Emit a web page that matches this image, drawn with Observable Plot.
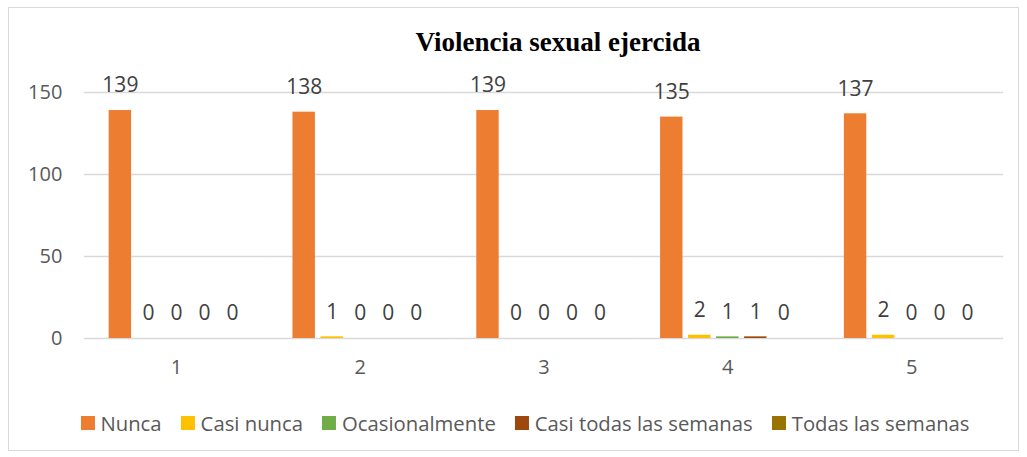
<!DOCTYPE html>
<html>
<head>
<meta charset="utf-8">
<script src="https://cdn.jsdelivr.net/npm/d3@7"></script>
<script src="https://cdn.jsdelivr.net/npm/@observablehq/plot@0.6"></script>
<style>
  html, body { margin: 0; padding: 0; background: #fff; }
  #wrap { position: relative; width: 1027px; height: 457px; overflow: hidden; font-family: "Open Sans", sans-serif; }
  #frame { position: absolute; left: 8px; top: 7px; width: 1011px; height: 444px; border: 1px solid #d9d9d9; box-sizing: border-box; }
  #title { position: absolute; top: 26px; left: 558px; transform: translateX(-50%); white-space: nowrap; line-height: 32px;
           font-family: "Liberation Serif", "Times New Roman", serif; font-weight: bold; font-size: 27px; color: #000; }
  #chart { position: absolute; left: 0; top: 0; }
  #legend { position: absolute; top: 408px; left: 525px; transform: translateX(-50%); display: flex; white-space: nowrap;
            font-size: 20.3px; line-height: 30px; color: #595959; align-items: center; }
  .item { display: flex; align-items: center; margin: 0 9.5px; }
  .sw { width: 14px; height: 14px; margin-right: 6px; }
</style>
</head>
<body>
<div id="wrap">
  <div id="frame"></div>
  <div id="chart"></div>
  <div id="title">Violencia sexual ejercida</div>
  <div id="legend"></div>
</div>
<script>
const groups = ["1", "2", "3", "4", "5"];
const series = ["Nunca", "Casi nunca", "Ocasionalmente", "Casi todas las semanas", "Todas las semanas"];
const nunca = [139, 138, 139, 135, 137];
const casiNunca = [0, 1, 0, 2, 2];
const ocasionalmente = [0, 0, 0, 1, 0];
const casiTodas = [0, 0, 0, 1, 0];
const todas = [0, 0, 0, 0, 0];
const colors = ["#ED7D31", "#FFC000", "#70AD47", "#9E480E", "#997300"];
const yTicks = [0, 50, 100, 150];

const seriesValues = [nunca, casiNunca, ocasionalmente, casiTodas, todas];
const data = groups.flatMap((g, i) => series.map((s, j) => ({group: g, series: s, value: seriesValues[j][i]})));

const chart = Plot.plot({
  width: 1027,
  height: 370,
  marginTop: 92,
  marginLeft: 84,
  marginRight: 24,
  marginBottom: 32,
  style: {fontFamily: "Open Sans, sans-serif", fontSize: "20px", color: "#595959", background: "transparent", overflow: "visible"},
  fx: {domain: groups, round: false, paddingInner: 0.238, paddingOuter: 0.119, label: null, axis: "bottom", tickSize: 0, tickPadding: 21},
  x: {domain: series, axis: null, round: false, paddingInner: 0.2, paddingOuter: 0.1},
  y: {domain: [0, 150], ticks: yTicks, label: null, tickSize: 0, tickPadding: 44},
  color: {domain: series, range: colors},
  marks: [
    Plot.ruleY(yTicks, {stroke: "#d9d9d9", strokeWidth: 1.3, insetLeft: -22, insetRight: -22}),
    Plot.barY(data, {fx: "group", x: "series", y: "value", fill: "series"}),
    Plot.text(data, {fx: "group", x: "series", y: "value", text: d => String(d.value), dy: -25, fontSize: 21, fill: "#404040"})
  ]
});
document.getElementById("chart").appendChild(chart);

const legend = document.getElementById("legend");
series.forEach((s, i) => {
  const item = document.createElement("div");
  item.className = "item";
  const sw = document.createElement("div");
  sw.className = "sw";
  sw.style.background = colors[i];
  const t = document.createElement("span");
  t.textContent = s;
  item.appendChild(sw);
  item.appendChild(t);
  legend.appendChild(item);
});
</script>
</body>
</html>
